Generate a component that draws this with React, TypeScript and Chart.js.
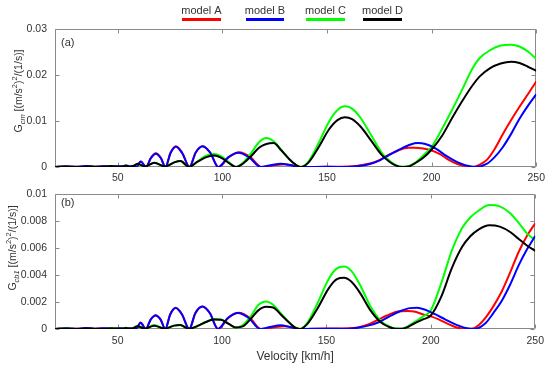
import React, { useEffect, useRef } from 'react';
import { Chart, registerables } from 'chart.js';

Chart.register(...registerables);

const FONT = 'Arial, "Liberation Sans", sans-serif';
const TEXT = '#333333';
const AXIS = '#8a8a8a';

// ---- axes / labels ----
const xTicks = [50, 100, 150, 200, 250];
const yTicksCm = [0, 0.01, 0.02, 0.03];
const yTicksCb = [0, 0.002, 0.004, 0.006, 0.008, 0.01];
const modelNames = ['model A', 'model B', 'model C', 'model D'];
const modelColors = ['#ff0000', '#0000ff', '#00ff00', '#000000'];

// ---- model A (red) ----
const velA = [20, 25, 30, 35, 39, 43, 47, 51, 54, 57, 58.8, 61, 63.5, 65.8, 68.2, 70.6, 72.8, 75.2, 77.8, 80.8, 84.3, 87.2, 90.6, 94.2, 98.2, 103, 108, 113.3, 118.7, 124, 130, 134, 137.5, 150, 160, 165, 171, 175, 179, 184, 189, 192, 196, 200, 204, 208, 212, 216, 219.5, 223, 226.5, 230, 234, 238, 242, 246, 250];
const gcmA = [0, 0.0001, 0.00003, 0.0002, 0.00002, 0.00018, 0.00002, 0.00015, 0.00001, 0.0002, 0, 0.0012, 0, 0.002, 0.003, 0.002, 0, 0.0031, 0.0045, 0.0031, 0, 0.0031, 0.0045, 0.0031, 0, 0.0021, 0.0032, 0.0022, 0, 0.0003, 0.0006, 0.0003, 0, 0.00005, 0.0001, 0.0003, 0.0008, 0.0015, 0.0025, 0.0036, 0.0042, 0.0042, 0.004, 0.0036, 0.0028, 0.0016, 0.0007, 0.0002, 0, 0.0005, 0.0016, 0.0038, 0.0071, 0.0102, 0.0131, 0.0158, 0.0186];
const gcbA = [0, 0.00003, 0.00001, 0.00007, 0, 0.00006, 0, 0.00005, 0, 0.00006, 0, 0.00048, 0, 0.0007, 0.00103, 0.0007, 0, 0.0011, 0.00157, 0.0011, 0, 0.00117, 0.00167, 0.00117, 0, 0.00082, 0.0012, 0.00083, 0, 0.0001, 0.0002, 0.0001, 0, 0.00003, 0.00005, 0.00012, 0.0004, 0.0007, 0.001, 0.0013, 0.00134, 0.0013, 0.0011, 0.00094, 0.0007, 0.0004, 0.00013, 0.00002, 0.00002, 0.0003, 0.0009, 0.0017, 0.0028, 0.0042, 0.0057, 0.0069, 0.00785];

// ---- model B (blue) ----
const velB = [20, 25, 30, 35, 39, 43, 47, 51, 54, 57, 58.8, 61, 63.5, 65.8, 68.2, 70.6, 72.8, 75.2, 77.8, 80.8, 84.3, 87.2, 90.6, 94.2, 98, 102.7, 107.6, 112.8, 118.3, 123, 128, 132.5, 137, 150, 160, 165, 170, 175, 180, 185, 190, 193.3, 197, 202, 207, 212, 216, 221, 226, 230, 234, 238, 242, 246, 250];
const gcmB = [0, 0.0001, 0.00003, 0.0002, 0.00002, 0.00018, 0.00002, 0.00015, 0.00001, 0.0002, 0, 0.0012, 0, 0.0019, 0.0029, 0.0019, 0, 0.003, 0.0044, 0.003, 0, 0.0031, 0.0045, 0.0031, 0, 0.0021, 0.0031, 0.0021, 0, 0.0004, 0.0007, 0.0004, 0, 0.00005, 0, 0.0002, 0.0006, 0.0014, 0.0027, 0.0039, 0.0049, 0.0052, 0.005, 0.004, 0.0024, 0.0011, 0.0004, 0, 0.0006, 0.0021, 0.0043, 0.0072, 0.0105, 0.0133, 0.0158];
const gcbB = [0, 0.00003, 0.00001, 0.00007, 0, 0.00006, 0, 0.00005, 0, 0.00006, 0, 0.00046, 0, 0.0007, 0.00101, 0.0007, 0, 0.00108, 0.00155, 0.00108, 0, 0.00117, 0.00167, 0.00117, 0, 0.00082, 0.00119, 0.00082, 0, 0.00015, 0.00027, 0.00015, 0, 0.00002, 0, 0.0001, 0.00025, 0.0005, 0.00092, 0.0013, 0.00155, 0.00157, 0.00145, 0.0011, 0.0007, 0.00032, 0.0001, 0, 0.0004, 0.0012, 0.0021, 0.0033, 0.0047, 0.0059, 0.0069];

// ---- models C (green) and D (black) ----
const velCD = [20, 26, 31, 37, 42, 47, 51, 54, 56.5, 59.5, 63, 67.5, 72.5, 77, 80, 84, 88, 92, 96, 99.5, 103, 106.5, 110, 114, 117.5, 121, 124.5, 128, 132, 135, 137.3, 141, 146, 151, 155, 158.5, 162, 166, 171, 176, 180, 183, 186, 189, 192, 196, 200, 205, 210, 215, 219, 223, 228, 233, 238, 242, 246, 250];
const gcmC = [0, 0.00005, 0, 0.0001, 0.00002, 0.0002, 0.00005, 0.0003, 0, 0.0006, 0.0001, 0.0009, 0.0001, 0.001, 0.0013, 0, 0.0012, 0.0024, 0.0028, 0.0023, 0.0011, 0, 0.001, 0.0032, 0.0054, 0.0063, 0.0056, 0.0038, 0.0017, 0.0005, 0, 0.0011, 0.0052, 0.0099, 0.0124, 0.0132, 0.0127, 0.0107, 0.007, 0.0032, 0.0013, 0.0004, 0.00003, 0.0002, 0.0009, 0.0025, 0.0044, 0.0083, 0.0126, 0.0172, 0.021, 0.0237, 0.0254, 0.0264, 0.0266, 0.0262, 0.0251, 0.0235];
const gcmD = [0, 0.0001, 0, 0.0001, 0, 0.0002, 0.00005, 0.0003, 0, 0.0007, 0.0001, 0.0009, 0.0001, 0.001, 0.0013, 0, 0.0011, 0.0021, 0.0025, 0.002, 0.0009, 0, 0.0008, 0.0025, 0.0042, 0.005, 0.0052, 0.0037, 0.0017, 0.0005, 0, 0.0009, 0.0043, 0.0082, 0.0102, 0.0108, 0.0104, 0.0088, 0.0058, 0.0027, 0.0011, 0.0003, 0.00002, 0.0001, 0.0008, 0.002, 0.0038, 0.0068, 0.0108, 0.0146, 0.0174, 0.0197, 0.0215, 0.0225, 0.0229, 0.0226, 0.0218, 0.0209];
const gcbC = [0, 0.00003, 0, 0.00004, 0, 0.00006, 0.00002, 0.0001, 0, 0.00025, 0.00003, 0.0003, 0.00003, 0.00025, 0.0003, 0.00002, 0.0002, 0.0005, 0.00075, 0.0007, 0.0004, 0.0001, 0.0003, 0.001, 0.0018, 0.00205, 0.0018, 0.0012, 0.0005, 0.00012, 0, 0.0005, 0.002, 0.0037, 0.0045, 0.00464, 0.0043, 0.0033, 0.0017, 0.0006, 0.0002, 0.00003, 0.00002, 0.0002, 0.0005, 0.0009, 0.0014, 0.0034, 0.0058, 0.0075, 0.0083, 0.0088, 0.0092, 0.0091, 0.0086, 0.0079, 0.0071, 0.0066];
const gcbD = [0, 0.00003, 0, 0.00003, 0, 0.00005, 0.00001, 0.00008, 0, 0.0002, 0.00002, 0.00025, 0.00002, 0.00025, 0.0003, 0.00002, 0.0002, 0.0005, 0.0007, 0.00068, 0.0004, 0.00012, 0.0002, 0.0008, 0.0014, 0.00165, 0.0016, 0.0011, 0.0005, 0.0001, 0, 0.0004, 0.0016, 0.003, 0.0037, 0.0038, 0.0035, 0.0027, 0.0014, 0.0005, 0.00015, 0.00002, 0.00002, 0.00015, 0.0004, 0.0007, 0.001, 0.0024, 0.0045, 0.0061, 0.0069, 0.0074, 0.0077, 0.0076, 0.0072, 0.0067, 0.0062, 0.0058];

const toPts = (xs: number[], ys: number[]) => xs.map((x, i) => ({ x, y: ys[i] }));
const fmt = (v: number) => (v === 0 ? '0' : String(parseFloat(v.toFixed(4))));

type Seg = { t: string; size: number; italic?: boolean; dy: number };

function drawRich(ctx: CanvasRenderingContext2D, segs: Seg[], cx: number, cy: number) {
  ctx.save();
  ctx.translate(cx, cy);
  ctx.rotate(-Math.PI / 2);
  ctx.fillStyle = TEXT;
  ctx.textBaseline = 'alphabetic';
  ctx.textAlign = 'left';
  let total = 0;
  for (const s of segs) {
    ctx.font = `${s.italic ? 'italic ' : ''}${s.size}px ${FONT}`;
    total += ctx.measureText(s.t).width;
  }
  let x = -total / 2;
  for (const s of segs) {
    ctx.font = `${s.italic ? 'italic ' : ''}${s.size}px ${FONT}`;
    ctx.fillText(s.t, x, s.dy);
    x += ctx.measureText(s.t).width;
  }
  ctx.restore();
}

function decorPlugin(p: {
  panel: string; panelY: number; sub: string; labelX: number; labelY: number;
  yTicks: number[]; legend: boolean;
}) {
  return {
    id: 'decor',
    beforeDatasetsDraw(chart: any) {
      const { ctx, chartArea: a, scales } = chart;
      const L = Math.round(a.left) + 0.5;
      const R = Math.round(a.right) - 0.5;
      const T = Math.round(a.top) + 0.5;
      const B = Math.round(a.bottom) - 0.5;
      ctx.save();
      ctx.strokeStyle = AXIS;
      ctx.lineWidth = 1;
      ctx.beginPath();
      ctx.rect(L, T, R - L, B - T);
      for (const v of xTicks) {
        const px = Math.round(scales.x.getPixelForValue(v)) + 0.5;
        ctx.moveTo(px, B); ctx.lineTo(px, B - 4);
        ctx.moveTo(px, T); ctx.lineTo(px, T + 4);
      }
      for (const v of p.yTicks) {
        const py = Math.round(scales.y.getPixelForValue(v)) + 0.5;
        ctx.moveTo(L, py); ctx.lineTo(L + 4, py);
        ctx.moveTo(R, py); ctx.lineTo(R - 4, py);
      }
      ctx.stroke();
      ctx.restore();
    },
    afterDraw(chart: any) {
      const { ctx, chartArea: a } = chart;
      ctx.save();
      ctx.fillStyle = TEXT;
      ctx.font = `11px ${FONT}`;
      ctx.textBaseline = 'middle';
      ctx.textAlign = 'left';
      ctx.fillText(p.panel, a.left + 6, p.panelY);
      ctx.restore();
      drawRich(ctx, [
        { t: 'G', size: 10.5, dy: 0 },
        { t: p.sub, size: 7.5, italic: true, dy: 3 },
        { t: ' [(m/s', size: 10.5, dy: 0 },
        { t: '2', size: 7.5, dy: -5 },
        { t: ')', size: 10.5, dy: 0 },
        { t: '2', size: 7.5, dy: -5 },
        { t: '/(1/s)]', size: 10.5, dy: 0 },
      ], p.labelX, p.labelY);
      if (p.legend) {
        const starts = [182, 246, 306, 363];
        const ends = [221, 284, 345, 402];
        ctx.save();
        ctx.font = `11px ${FONT}`;
        ctx.textAlign = 'center';
        ctx.textBaseline = 'middle';
        for (let i = 0; i < modelNames.length; i++) {
          const cx = (starts[i] + ends[i]) / 2;
          ctx.fillStyle = TEXT;
          ctx.fillText(modelNames[i], cx, 11);
          ctx.strokeStyle = modelColors[i];
          ctx.lineWidth = 3;
          ctx.beginPath();
          ctx.moveTo(starts[i], 19.5);
          ctx.lineTo(ends[i], 19.5);
          ctx.stroke();
        }
        ctx.restore();
      }
    },
  };
}

function lineDs(label: string, color: string, xs: number[], ys: number[]) {
  return {
    label,
    data: toPts(xs, ys),
    borderColor: color,
    backgroundColor: color,
    borderWidth: 2,
    pointRadius: 0,
    fill: false,
    cubicInterpolationMode: 'monotone',
  };
}

function makeConfig(o: {
  datasets: any[]; yTicks: number[]; yMax: number; canvasH: number; areaTop: number; areaBottom: number;
  xTitle: boolean; xPad: number; plugin: any;
}): any {
  return {
    type: 'line',
    data: { datasets: o.datasets },
    options: {
      animation: false,
      responsive: false,
      devicePixelRatio: 1,
      events: [],
      layout: { padding: { left: 0, right: 10, top: o.areaTop, bottom: 0 } },
      plugins: { legend: { display: false }, tooltip: { enabled: false } },
      scales: {
        x: {
          type: 'linear',
          min: 20,
          max: 250,
          afterBuildTicks: (s: any) => { s.ticks = xTicks.map((v) => ({ value: v })); },
          afterFit: (s: any) => { s.height = o.canvasH - o.areaBottom; },
          grid: { display: false, drawTicks: false },
          border: { display: false },
          ticks: { color: TEXT, font: { family: FONT, size: 10.5 }, padding: o.xPad, maxRotation: 0, callback: (v: number) => String(v) },
          title: {
            display: o.xTitle,
            text: 'Velocity [km/h]',
            color: TEXT,
            font: { family: FONT, size: 12 },
            padding: { top: 0, bottom: 1 },
          },
        },
        y: {
          min: 0,
          max: o.yMax,
          afterBuildTicks: (s: any) => { s.ticks = o.yTicks.map((v) => ({ value: v })); },
          afterFit: (s: any) => { s.width = 55; },
          grid: { display: false, drawTicks: false },
          border: { display: false },
          ticks: { color: TEXT, font: { family: FONT, size: 10.5 }, padding: 8, callback: (v: number) => fmt(v) },
        },
      },
    },
    plugins: [o.plugin],
  };
}

export default function App() {
  const topRef = useRef<HTMLCanvasElement>(null);
  const botRef = useRef<HTMLCanvasElement>(null);

  useEffect(() => {
    const top = new Chart(topRef.current as HTMLCanvasElement, makeConfig({
      datasets: [
        lineDs('model D', modelColors[3], velCD, gcmD),
        lineDs('model B', modelColors[1], velB, gcmB),
        lineDs('model C', modelColors[2], velCD, gcmC),
        lineDs('model A', modelColors[0], velA, gcmA),
      ],
      yTicks: yTicksCm, yMax: 0.03, canvasH: 186, areaTop: 29, areaBottom: 167, xTitle: false, xPad: 5,
      plugin: decorPlugin({ panel: '(a)', panelY: 43, sub: 'cm', labelX: 22, labelY: 91, yTicks: yTicksCm, legend: true }),
    }));
    const bot = new Chart(botRef.current as HTMLCanvasElement, makeConfig({
      datasets: [
        lineDs('model D', modelColors[3], velCD, gcbD),
        lineDs('model B', modelColors[1], velB, gcbB),
        lineDs('model C', modelColors[2], velCD, gcbC),
        lineDs('model A', modelColors[0], velA, gcbA),
      ],
      yTicks: yTicksCb, yMax: 0.01, canvasH: 185, areaTop: 11, areaBottom: 149, xTitle: true, xPad: 6,
      plugin: decorPlugin({ panel: '(b)', panelY: 23, sub: 'cb1', labelX: 16, labelY: 68, yTicks: yTicksCb, legend: false }),
    }));
    return () => { top.destroy(); bot.destroy(); };
  }, []);

  return (
    <div style={{ position: 'absolute', left: 0, top: 0, width: 550, height: 365, background: '#ffffff', overflow: 'hidden' }}>
      <canvas ref={topRef} width={550} height={186} style={{ position: 'absolute', left: 0, top: 0 }} />
      <canvas ref={botRef} width={550} height={185} style={{ position: 'absolute', left: 0, top: 180 }} />
    </div>
  );
}
